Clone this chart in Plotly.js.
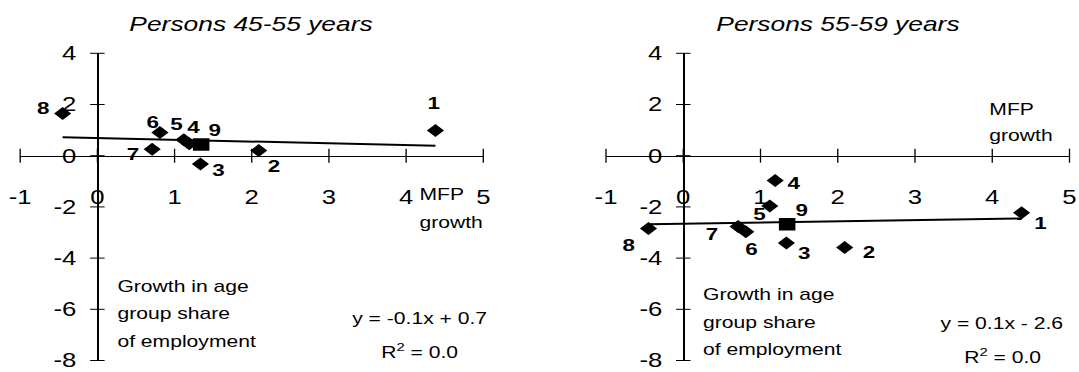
<!DOCTYPE html>
<html>
<head>
<meta charset="utf-8">
<script src="https://cdn.plot.ly/plotly-3.0.1.min.js"></script>
<style>
  html, body { margin: 0; padding: 0; background: #fff; overflow: hidden; }
  #wrap { width: 818px; height: 372px; transform: scaleX(1.31907); transform-origin: 0 0; }
</style>
</head>
<body>
<div id="wrap"><div id="chart"></div></div>
<script>
// ---------------- data ----------------
const pointLabels = ['1', '2', '3', '4', '5', '6', '7', '8'];
const mfpGrowth   = [4.38, 2.09, 1.335, 1.19, 1.12, 0.81, 0.71, -0.45];
const share4555   = [0.98, 0.20, -0.32, 0.47, 0.62, 0.91, 0.25, 1.65];
const share5559   = [-2.23, -3.59, -3.41, -0.97, -1.96, -2.97, -2.77, -2.84];

const totalLabel  = ['9'];
const totalMfp    = [1.345];
const total4555   = [0.44];
const total5559   = [-2.68];

const trendX      = [-0.45, 4.38];
const trend4555   = [0.72, 0.39];
const trend5559   = [-2.68, -2.45];

const xTickVals = [-1, 0, 1, 2, 3, 4, 5];
const xTickText = ['-1', '0', '1', '2', '3', '4', '5'];
const yTickVals = [-8, -6, -4, -2, 0, 2, 4];
const yTickText = ['-8', '-6', '-4', '-2', '0', '2', '4'];

const titleLeft  = 'Persons 45-55 years';
const titleRight = 'Persons 55-59 years';
const xNameLines = ['MFP', 'growth'];
const yNameLines = ['Growth in age', 'group share', 'of employment'];
const eqLeft  = ['y = -0.1x + 0.7', 'R<sup>2</sup> = 0.0'];
const eqRight = ['y = 0.1x - 2.6', 'R<sup>2</sup> = 0.0'];

// ---------------- layout helpers (positions / styles) ----------------
const S = 1079 / 818;                 // horizontal stretch of the reference
const W = 818, H = 372;
const px2x = p => p / 1079;           // stretched px -> paper x
const px2y = p => 1 - p / H;          // px from top -> paper y
const FONT = 'Liberation Sans, Arial, Helvetica, sans-serif';
const X_RANGE = [-1, 5], Y_RANGE = [-8, 4];

// label offsets (stretched px, dx right, dy down) for points 1..8 and 9
const offs4555 = [[-2, -27], [15, 16], [18, 7], [5, -16], [-8, -15], [-8, -10], [-19, 5], [-20, -5]];
const offT4555 = [13.5, -14];
const offs5559 = [[19, 11], [24, 5], [18, 10], [18.5, 2.5], [-11, 9], [5, 18], [-26, 8], [-20, 17]];
const offT5559 = [14.7, -14];

const yDom = [px2y(360.5), px2y(53.3)];
const leftDom  = [px2x(20.2), px2x(483.3)];
const rightDom = [px2x(606.0), px2x(1069.5)];
const xd = v => (v - X_RANGE[0]) / (X_RANGE[1] - X_RANGE[0]);   // value -> axis-domain fraction
const yd = v => (v - Y_RANGE[0]) / (Y_RANGE[1] - Y_RANGE[0]);
const xPos = yDom[0] + (yDom[1] - yDom[0]) * yd(0);             // where y = 0
const yPosL = leftDom[0]  + (leftDom[1]  - leftDom[0])  * xd(0); // where x = 0
const yPosR = rightDom[0] + (rightDom[1] - rightDom[0]) * xd(0);

const tickFont = { family: FONT, size: 19.5, color: '#000' };

function xAxis(dom) {
  return {
    domain: dom, range: X_RANGE, anchor: 'free', position: xPos,
    tickmode: 'array', tickvals: xTickVals, ticktext: xTickText, ticks: '',
    showline: true, linecolor: '#000', linewidth: 1,
    tickfont: tickFont, ticklabelstandoff: 24,
    showgrid: false, zeroline: false, fixedrange: true
  };
}
function yAxis(dom, pos) {
  return {
    domain: dom, range: Y_RANGE, anchor: 'free', position: pos,
    tickmode: 'array', tickvals: yTickVals, ticktext: yTickText, ticks: '',
    showline: true, linecolor: '#000', linewidth: 1,
    tickfont: tickFont, ticklabelstandoff: 12,
    showgrid: false, zeroline: false, fixedrange: true
  };
}

// cross-shaped tick marks on both axes of a panel (axis-domain refs, so never clipped)
const shapes = [];
const plotHpx = 360.5 - 53.3;                  // plot height in px
const plotWpx = (483.3 - 20.2) / S;            // plot width in (unstretched) px
function crossTicks(xa, ya) {
  xTickVals.forEach(v => shapes.push({ type: 'line', xref: xa + ' domain', yref: ya + ' domain',
    x0: xd(v), x1: xd(v), y0: yd(0) - 7 / plotHpx, y1: yd(0) + 7 / plotHpx,
    line: { color: '#000', width: 1 } }));
  yTickVals.forEach(v => shapes.push({ type: 'line', xref: xa + ' domain', yref: ya + ' domain',
    x0: xd(0) - 5.5 / plotWpx, x1: xd(0) + 5.5 / plotWpx, y0: yd(v), y1: yd(v),
    line: { color: '#000', width: 1 } }));
}
crossTicks('x', 'y');
crossTicks('x2', 'y2');

// ---------------- traces ----------------
function panelTraces(xa, ya, yVals, totY, trY) {
  return [
    { type: 'scatter', mode: 'lines', x: trendX, y: trY, xaxis: xa, yaxis: ya,
      line: { color: '#000', width: 2 }, hoverinfo: 'skip' },
    { type: 'scatter', mode: 'markers', x: mfpGrowth, y: yVals, xaxis: xa, yaxis: ya,
      marker: { symbol: 'diamond', size: 10, color: '#000' } },
    { type: 'scatter', mode: 'markers', x: totalMfp, y: totY, xaxis: xa, yaxis: ya,
      marker: { symbol: 'square', size: 12.5, color: '#000' } }
  ];
}
const traces = [
  ...panelTraces('x', 'y', share4555, total4555, trend4555),
  ...panelTraces('x2', 'y2', share5559, total5559, trend5559)
];

// ---------------- annotations ----------------
const ann = [];
function textAt(text, xpx, baseline, size, anchor) {
  ann.push({
    text: text, xref: 'paper', yref: 'paper', x: px2x(xpx), y: px2y(baseline - 0.35 * size),
    xanchor: anchor, yanchor: 'middle', showarrow: false,
    font: { family: FONT, size: size, color: '#000' }
  });
}
[['x', titleLeft], ['x2', titleRight]].forEach(([xr, t]) => {
  ann.push({ text: t, xref: xr, x: 2, yref: 'paper', y: px2y(30.7 - 0.35 * 20), xanchor: 'center',
    yanchor: 'middle', showarrow: false, font: { family: FONT, size: 20, style: 'italic', color: '#000' } });
});
const TS = 16;
const mfpLeftBase = [200, 227.7], mfpRightBase = [115, 141];
xNameLines.forEach((t, i) => { textAt(t, 417, mfpLeftBase[i], TS, 'left'); textAt(t, 987, mfpRightBase[i], TS, 'left'); });
const yNameLeftBase = [292, 319.3, 347], yNameRightBase = [300.3, 327.7, 355.3];
yNameLines.forEach((t, i) => { textAt(t, 115, yNameLeftBase[i], TS, 'left'); textAt(t, 701, yNameRightBase[i], TS, 'left'); });
const eqLeftBase = [324, 356.7], eqRightBase = [328.7, 361.7];
eqLeft.forEach((t, i) => textAt(t, 420, eqLeftBase[i], TS, 'center'));
eqRight.forEach((t, i) => textAt(t, 1002, eqRightBase[i], TS, 'center'));
function pointLabel(t, xr, yr, x, y, off) {
  ann.push({ text: '<b>' + t + '</b>', xref: xr, yref: yr, x: x, y: y, xshift: off[0] / S, yshift: -off[1],
    xanchor: 'center', yanchor: 'middle', showarrow: false,
    font: { family: FONT, size: 17, weight: 'bold', color: '#000' } });
}
pointLabels.forEach((t, i) => {
  pointLabel(t, 'x', 'y', mfpGrowth[i], share4555[i], offs4555[i]);
  pointLabel(t, 'x2', 'y2', mfpGrowth[i], share5559[i], offs5559[i]);
});
pointLabel(totalLabel[0], 'x', 'y', totalMfp[0], total4555[0], offT4555);
pointLabel(totalLabel[0], 'x2', 'y2', totalMfp[0], total5559[0], offT5559);

const layout = {
  width: W, height: H, margin: { l: 0, r: 0, t: 0, b: 0, pad: 0 },
  paper_bgcolor: '#fff', plot_bgcolor: 'rgba(0,0,0,0)', showlegend: false,
  font: { family: FONT, color: '#000' },
  xaxis:  xAxis(leftDom),  yaxis:  yAxis(yDom, yPosL),
  xaxis2: xAxis(rightDom), yaxis2: yAxis(yDom, yPosR),
  shapes: shapes,
  annotations: ann
};

Plotly.newPlot('chart', traces, layout, { staticPlot: true, displayModeBar: false });
</script>
</body>
</html>
